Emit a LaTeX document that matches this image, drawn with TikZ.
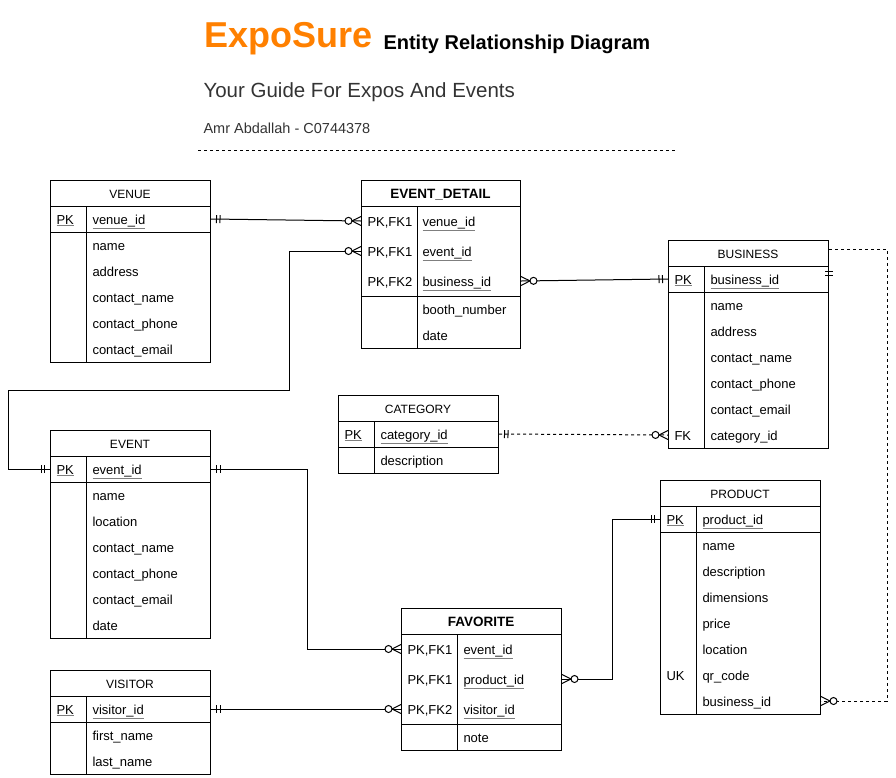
\documentclass[tikz,border=0pt]{standalone}
\usepackage{fontspec}
\setmainfont{Liberation Sans}
\usetikzlibrary{decorations.markings}
\definecolor{expoorange}{HTML}{FF8000}
\definecolor{titlegray}{HTML}{333333}
\definecolor{ulgray}{HTML}{7F7F7F}
\newcommand{\pkul}[1]{{\color{ulgray}\underline{\textcolor{black}{#1}}}}
% header line, key line and key column of a table
\newcommand{\erlines}[3]{%
  \draw ([yshift=-26pt]#1.north west) -- ([yshift=-26pt]#1.north east)
        ([yshift=-#2pt]#1.north west) -- ([yshift=-#2pt]#1.north east)
        ([xshift=#3pt,yshift=-26pt]#1.north west) -- ([xshift=#3pt]#1.south west);}
\tikzset{ent/.style = {draw, anchor=north west, minimum width=160pt, inner sep=0pt},
         ttl/.style = {font=\fontsize{12}{14}\selectfont, inner sep=0pt,
                       text height=10.5pt, text depth=0pt},
         bttl/.style = {ttl, font=\fontsize{13.5}{16}\selectfont\bfseries},
         fld/.style = {anchor=west, font=\fontsize{13}{15}\selectfont, inner sep=0pt,
                       text height=11pt, text depth=1pt},
         dashlink/.style = {dash pattern=on 3pt off 3pt},
         one start/.style = {postaction={decorate, decoration={markings,
                             mark=at position 0 with {\draw[solid] (5.5,-4) -- (5.5,4) (9,-4) -- (9,4);}}}},
         one end/.style = {postaction={decorate, decoration={markings,
                           mark=at position 1 with {\draw[solid] (-5.5,-4) -- (-5.5,4) (-9,-4) -- (-9,4);}}}},
         many start/.style = {postaction={decorate, decoration={markings,
                              mark=at position 0 with {\draw[solid] (0,-4.5) -- (9,0) -- (0,4.5);
                                                       \draw[solid, fill=white] (12.5,0) circle (3.5);}}}},
         many end/.style = {postaction={decorate, decoration={markings,
                            mark=at position 1 with {\draw[solid] (0,-4.5) -- (-9,0) -- (0,4.5);
                                                     \draw[solid, fill=white] (-12.5,0) circle (3.5);}}}}}

\begin{document}
\begin{tikzpicture}[x=1pt, y=-1pt, line width=1pt]
  \useasboundingbox (0,0) rectangle (896,777);

  % title block
  \node[anchor=base west, inner sep=0pt, text=expoorange,
        font=\fontsize{36}{40}\selectfont\bfseries] (brand) at (204,47) {ExpoSure};
  \node[anchor=base west, inner sep=0pt,
        font=\fontsize{20}{24}\selectfont\bfseries] (erd) at (383,49) {Entity Relationship Diagram};
  \node[anchor=base west, inner sep=0pt, text=titlegray,
        font=\fontsize{20.5}{24}\selectfont] (guide) at (203,97) {Your Guide For Expos And Events};
  \node[anchor=base west, inner sep=0pt, text=titlegray,
        font=\fontsize{14.5}{17}\selectfont] (author) at (203,133) {Amr Abdallah - C0744378};
  \draw[dashlink] (198,150) -- (676,150);

  % VENUE
  \node[ent, minimum height=182pt] (venue) at (50,180) {};
  \erlines{venue}{52}{36}
  \node[ttl] (venue-t) at (130,193) {VENUE};
  \node[fld] (v-pk) at (56,219) {\pkul{PK}};
  \node[fld] (v-id) at (92,219) {\pkul{venue\_id}};
  \foreach \f [count=\i] in {name, address, contact\_name, contact\_phone, contact\_email}
    \node[fld] (v-f\i) at (92,219+26*\i) {\f};

  % EVENT_DETAIL
  \node[ent, minimum width=159pt, minimum height=168pt] (ed) at (361,180) {};
  \erlines{ed}{116}{56}
  \node[bttl] (ed-t) at (440.5,193) {EVENT\_DETAIL};
  \node[fld] (ed-k1) at (367,221) {PK,FK1};
  \node[fld] (ed-k2) at (367,251) {PK,FK1};
  \node[fld] (ed-k3) at (367,281) {PK,FK2};
  \node[fld] (ed-vid) at (422,221) {\pkul{venue\_id}};
  \node[fld] (ed-eid) at (422,251) {\pkul{event\_id}};
  \node[fld] (ed-bid) at (422,281) {\pkul{business\_id}};
  \node[fld] (ed-f1) at (422,309) {booth\_number};
  \node[fld] (ed-f2) at (422,335) {date};

  % BUSINESS
  \node[ent, minimum height=208pt] (business) at (668,240) {};
  \erlines{business}{52}{36}
  \node[ttl] (business-t) at (748,253) {BUSINESS};
  \node[fld] (b-pk) at (674,279) {\pkul{PK}};
  \node[fld] (b-id) at (710,279) {\pkul{business\_id}};
  \foreach \f [count=\i] in {name, address, contact\_name, contact\_phone, contact\_email}
    \node[fld] (b-f\i) at (710,279+26*\i) {\f};
  \node[fld] (b-fk) at (674,435) {FK};
  \node[fld] (b-cat) at (710,435) {category\_id};

  % CATEGORY
  \node[ent, minimum height=78pt] (category) at (338,395) {};
  \erlines{category}{52}{36}
  \node[ttl] (category-t) at (418,408) {CATEGORY};
  \node[fld] (c-pk) at (344,434) {\pkul{PK}};
  \node[fld] (c-id) at (380,434) {\pkul{category\_id}};
  \node[fld] (c-f1) at (380,460) {description};

  % EVENT
  \node[ent, minimum height=208pt] (event) at (50,430) {};
  \erlines{event}{52}{36}
  \node[ttl] (event-t) at (130,443) {EVENT};
  \node[fld] (e-pk) at (56,469) {\pkul{PK}};
  \node[fld] (e-id) at (92,469) {\pkul{event\_id}};
  \foreach \f [count=\i] in {name, location, contact\_name, contact\_phone, contact\_email, date}
    \node[fld] (e-f\i) at (92,469+26*\i) {\f};

  % FAVORITE
  \node[ent, minimum height=142pt] (fav) at (401,608) {};
  \erlines{fav}{116}{56}
  \node[bttl] (fav-t) at (481,621) {FAVORITE};
  \node[fld] (f-k1) at (407,649) {PK,FK1};
  \node[fld] (f-k2) at (407,679) {PK,FK1};
  \node[fld] (f-k3) at (407,709) {PK,FK2};
  \node[fld] (f-eid) at (463,649) {\pkul{event\_id}};
  \node[fld] (f-pid) at (463,679) {\pkul{product\_id}};
  \node[fld] (f-vid) at (463,709) {\pkul{visitor\_id}};
  \node[fld] (f-f1) at (463,737) {note};

  % PRODUCT
  \node[ent, minimum height=234pt] (product) at (660,480) {};
  \erlines{product}{52}{36}
  \node[ttl] (product-t) at (740,493) {PRODUCT};
  \node[fld] (p-pk) at (666,519) {\pkul{PK}};
  \node[fld] (p-id) at (702,519) {\pkul{product\_id}};
  \foreach \f [count=\i] in {name, description, dimensions, price, location, qr\_code}
    \node[fld] (p-f\i) at (702,519+26*\i) {\f};
  \node[fld] (p-uk) at (666,675) {UK};
  \node[fld] (p-bid) at (702,701) {business\_id};

  % VISITOR
  \node[ent, minimum height=104pt] (visitor) at (50,670) {};
  \erlines{visitor}{52}{36}
  \node[ttl] (visitor-t) at (130,683) {VISITOR};
  \node[fld] (vi-pk) at (56,709) {\pkul{PK}};
  \node[fld] (vi-id) at (92,709) {\pkul{visitor\_id}};
  \node[fld] (vi-f1) at (92,735) {first\_name};
  \node[fld] (vi-f2) at (92,761) {last\_name};

  % relationships
  \draw[one start, many end] (venue.east |- v-id) -- (ed.west |- ed-vid);
  \draw[one start, many end] (event.west |- e-id) -- ++(-42,0) |- (289,390) |- (ed.west |- ed-eid);
  \draw[many start, one end] (ed.east |- ed-bid) -- (business.west |- b-id);
  \draw[dashlink, one start, many end] (category.east |- c-id) -- (business.west |- b-cat);
  \draw[one start, many end] (event.east |- e-id) -- ++(96,0) |- (fav.west |- f-eid);
  \draw[many start, one end] (fav.east |- f-pid) -- ++(50,0) |- (product.west |- p-id);
  \draw[one start, many end] (visitor.east |- vi-id) -- (fav.west |- f-vid);
  \draw[dashlink, many end] ([yshift=-9pt]business.north east) -- ++(58,0) |- (product.east |- p-bid);
  \draw ([yshift=-31.5pt]business.north east) ++(-4,0) -- ++(8,0)
        ([yshift=-35pt]business.north east) ++(-4,0) -- ++(8,0);
\end{tikzpicture}
\end{document}
